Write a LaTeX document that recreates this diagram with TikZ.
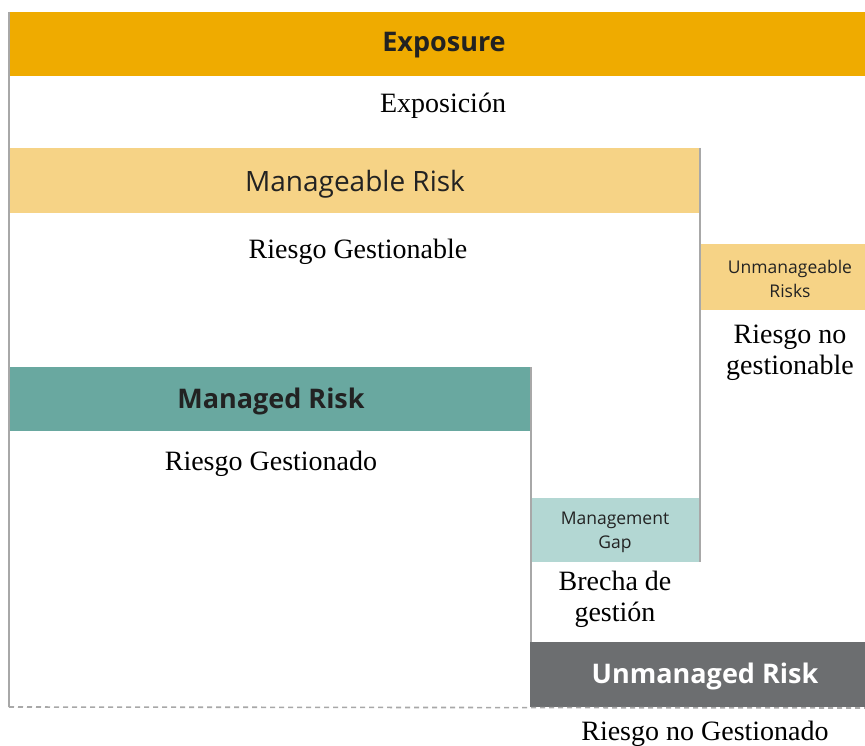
\documentclass[tikz,border=0pt]{standalone}
\usepackage{fontspec}
\setmainfont{Liberation Serif}
\newfontfamily\lab{Open Sans}
\definecolor{expo}{HTML}{EFAB00}
\definecolor{mgbl}{HTML}{F6D386}
\definecolor{mgd}{HTML}{69A8A0}
\definecolor{gapc}{HTML}{B3D7D3}
\definecolor{unm}{HTML}{6C6E70}
\definecolor{edge}{HTML}{A8A8A8}
\definecolor{ink}{HTML}{222222}
\begin{document}
\begin{tikzpicture}[x=1pt,y=-1pt,
  bar/.style={rectangle,anchor=north west,inner sep=0pt,draw=none},
  lbl/.style={font=\lab,text=ink,align=center},
  sp/.style={font=\fontsize{28}{31}\selectfont,text=black,align=center},
  frame/.style={draw=edge,line width=1.6pt}]
\useasboundingbox[fill=white] (0,0) rectangle (865,746);
% bars
\fill[expo] (8,12) rectangle (865,76);
\fill[mgbl] (8,148) rectangle (700,213);
\fill[mgbl] (700,244) rectangle (865,310);
\fill[mgd] (8,367) rectangle (530,431);
\fill[gapc] (530,498) rectangle (700,562);
\fill[unm] (530,642) rectangle (865,707);
% frame lines
\coordinate (l1) at (9,12);
\coordinate (l2) at (9,707);
\coordinate (r1) at (700,148);
\coordinate (r2) at (700,562);
\coordinate (m1) at (531,367);
\coordinate (m2) at (531,642);
\coordinate (d2) at (865,708);
\draw[frame] (l1) -- (l2);
\draw[edge,line width=1.6pt,dashed,dash pattern=on 5pt off 4pt] (l2) -- (d2);
\draw[frame] (r1) -- (r2);
\draw[frame] (m1) -- (m2);
% labels
\node[lbl,font=\lab\bfseries\fontsize{27}{30}\selectfont] (expo) at (444,45) {Exposure};
\node[sp] (expos) at (443,106) {Exposición};
\node[lbl,font=\lab\fontsize{28}{30}\selectfont] (mgbl) at (355,184) {Manageable Risk};
\node[sp] (rgb) at (358,252) {Riesgo Gestionable};
\node[lbl,font=\lab\fontsize{17.5}{24}\selectfont] (unmb) at (790,279) {Unmanageable\\Risks};
\node[sp] (rng) at (790,353) {Riesgo no\\gestionable};
\node[lbl,font=\lab\bfseries\fontsize{27}{30}\selectfont] (mgd) at (271,401) {Managed Risk};
\node[sp] (rgd) at (271,464) {Riesgo Gestionado};
\node[lbl,font=\lab\fontsize{17.5}{24}\selectfont] (gap) at (615,532) {Management\\Gap};
\node[sp] (brecha) at (615,599) {Brecha de\\gestión};
\node[lbl,font=\lab\bfseries\fontsize{27}{30}\selectfont,text=white] (unm) at (705,676) {Unmanaged Risk};
\node[sp] (rngd) at (705,734) {Riesgo no Gestionado};
\end{tikzpicture}
\end{document}
